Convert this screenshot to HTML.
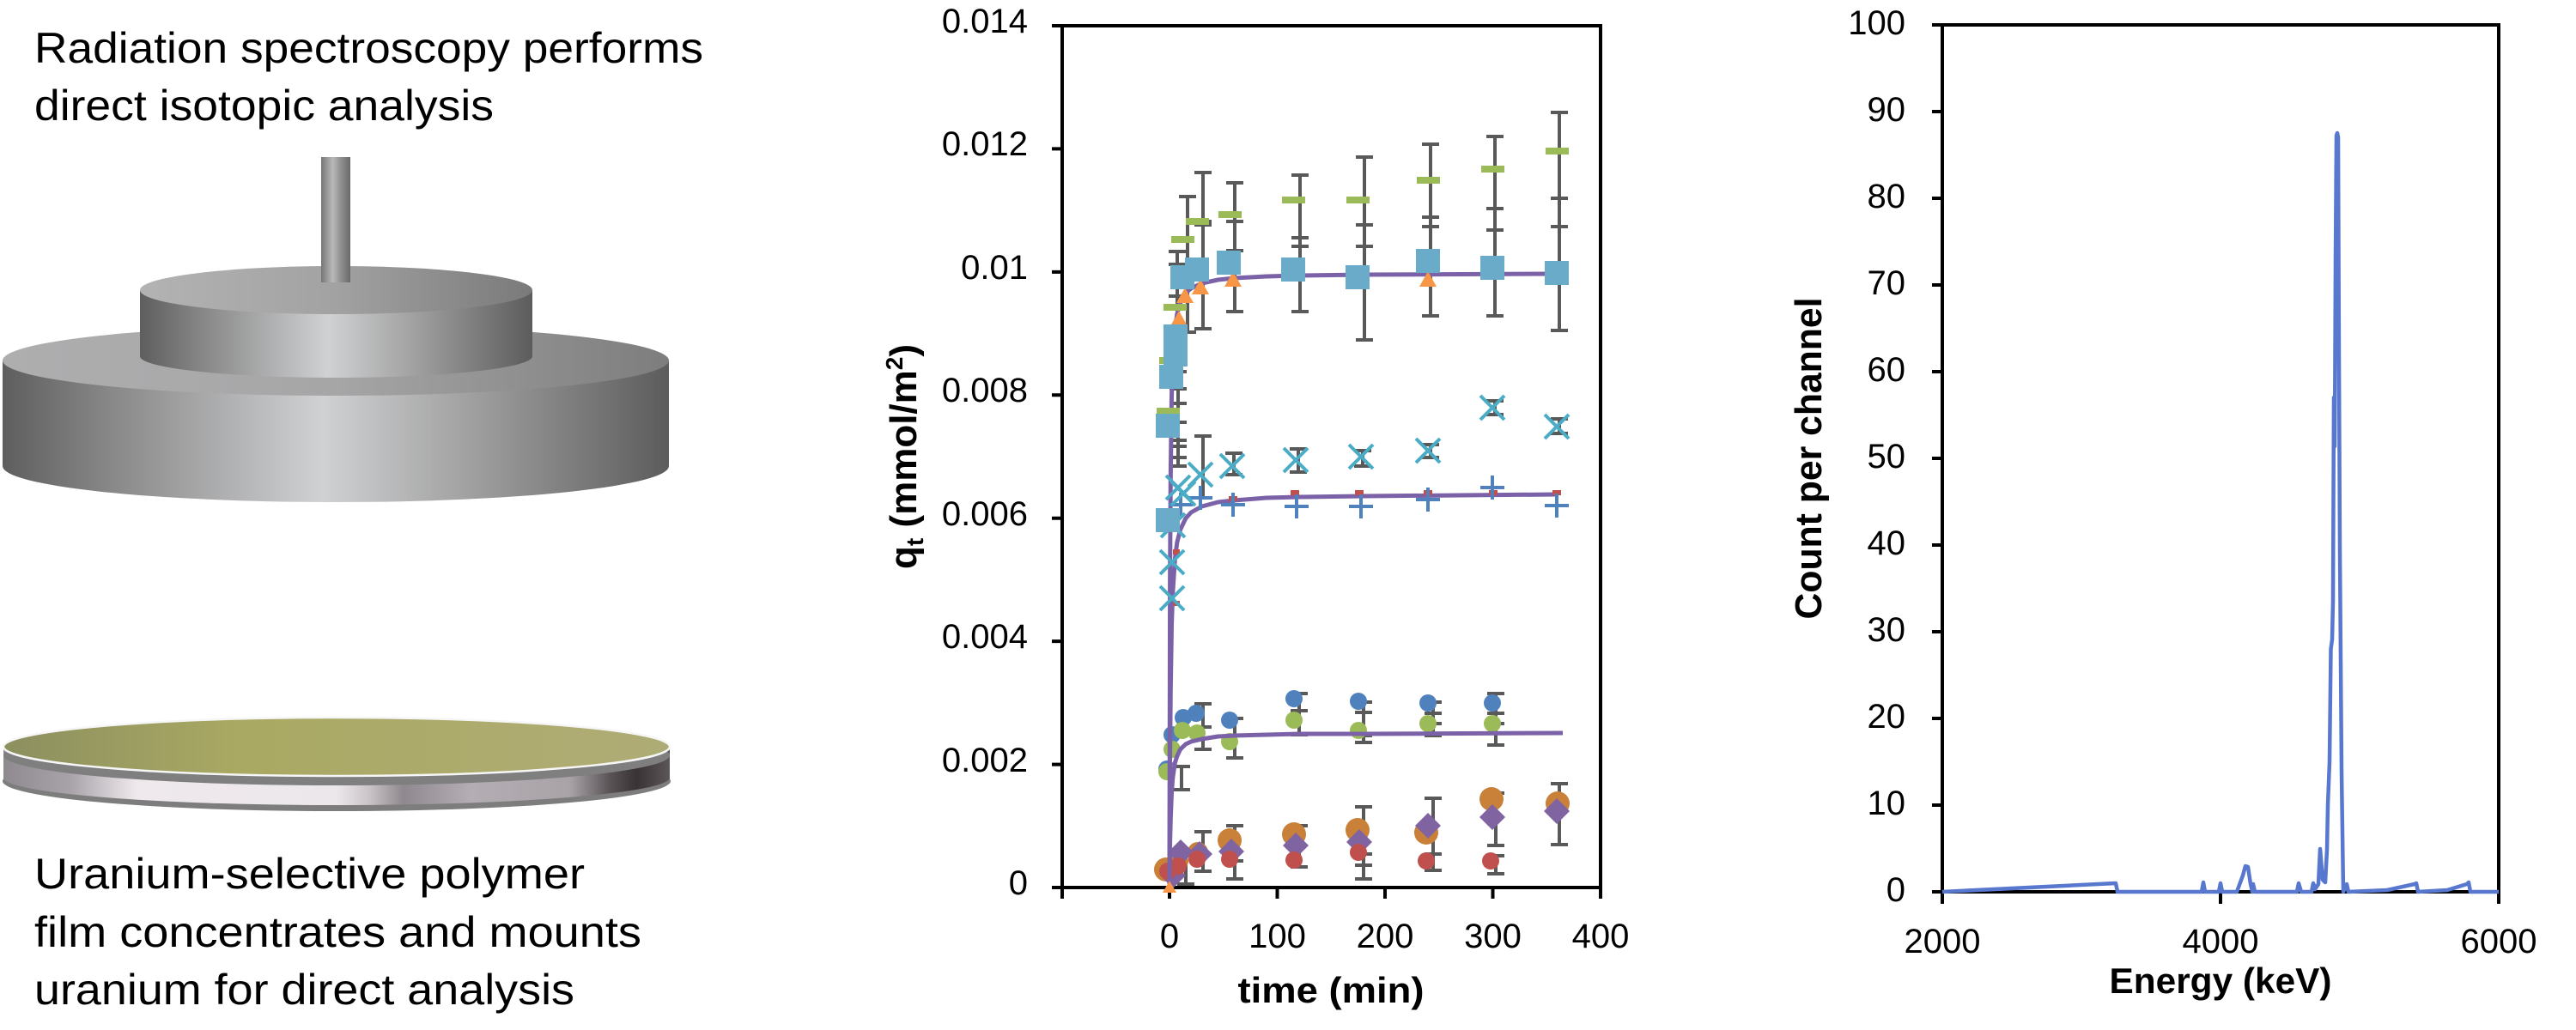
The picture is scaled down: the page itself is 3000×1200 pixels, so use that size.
<!DOCTYPE html>
<html><head><meta charset="utf-8"><style>
html,body{margin:0;padding:0;background:#fff;}
body{width:3000px;height:1200px;overflow:hidden;}
svg{display:block;}
text{font-family:"Liberation Sans",Arial,sans-serif;fill:#000;}
</style></head><body>
<svg width="3000" height="1200" viewBox="0 0 3000 1200" xmlns="http://www.w3.org/2000/svg">
<defs>
<linearGradient id="cyl" x1="0" x2="1" y1="0" y2="0">
<stop offset="0" stop-color="#5e5e5e"/><stop offset="0.15" stop-color="#858585"/>
<stop offset="0.48" stop-color="#d0d1d3"/><stop offset="0.72" stop-color="#9c9c9c"/>
<stop offset="1" stop-color="#5c5c5c"/></linearGradient>
<linearGradient id="top1" x1="0" x2="1" y1="0" y2="0">
<stop offset="0" stop-color="#b3b3b4"/><stop offset="0.5" stop-color="#a2a2a3"/><stop offset="1" stop-color="#7a7a7a"/></linearGradient>
<linearGradient id="top2" x1="0" x2="1" y1="0" y2="0">
<stop offset="0" stop-color="#aeaeaf"/><stop offset="0.5" stop-color="#a6a6a7"/><stop offset="1" stop-color="#7d7d7d"/></linearGradient>
<linearGradient id="rod" x1="0" x2="1" y1="0" y2="0">
<stop offset="0" stop-color="#767676"/><stop offset="0.4" stop-color="#b9b9b9"/><stop offset="0.7" stop-color="#8c8c8c"/><stop offset="1" stop-color="#6a6a6a"/></linearGradient>
<linearGradient id="disc" x1="0" x2="1" y1="0" y2="0">
<stop offset="0" stop-color="#8e8a8f"/><stop offset="0.1" stop-color="#a8a3a8"/>
<stop offset="0.2" stop-color="#efe9ee"/><stop offset="0.5" stop-color="#ece7ea"/>
<stop offset="0.55" stop-color="#c9c3c8"/><stop offset="0.6" stop-color="#8f898f"/>
<stop offset="0.7" stop-color="#b4aeb4"/><stop offset="0.85" stop-color="#a9a3a8"/>
<stop offset="0.91" stop-color="#5a5356"/><stop offset="0.95" stop-color="#3a3335"/>
<stop offset="1" stop-color="#5c5658"/></linearGradient>
<linearGradient id="olive" x1="0" x2="1" y1="0" y2="0">
<stop offset="0" stop-color="#8c8f5f"/><stop offset="0.35" stop-color="#a9a963"/>
<stop offset="0.7" stop-color="#adab6d"/><stop offset="1" stop-color="#aeac76"/></linearGradient>
</defs>

<!-- ===== Left illustration ===== -->
<text x="40" y="73" font-size="50" textLength="779" lengthAdjust="spacingAndGlyphs">Radiation spectroscopy performs</text>
<text x="40" y="140" font-size="50" textLength="535" lengthAdjust="spacingAndGlyphs">direct isotopic analysis</text>

<!-- lower cylinder -->
<path d="M3,420 L3,543 A388,42 0 0 0 779,543 L779,420 Z" fill="url(#cyl)"/>
<ellipse cx="391" cy="420" rx="388" ry="41" fill="url(#top2)"/>
<!-- upper cylinder -->
<path d="M163,338 L163,415 A228.5,25 0 0 0 620,415 L620,338 Z" fill="url(#cyl)"/>
<ellipse cx="391.5" cy="338" rx="228.5" ry="28" fill="url(#top1)"/>
<!-- rod -->
<rect x="374" y="183" width="34" height="146" fill="url(#rod)"/>

<!-- disc -->
<ellipse cx="392" cy="910" rx="389" ry="35" fill="#7d7d7d"/>
<rect x="4" y="872" width="776" height="36" fill="url(#disc)"/>
<ellipse cx="392" cy="906" rx="388" ry="32" fill="url(#disc)"/>
<ellipse cx="392" cy="880" rx="388" ry="35" fill="#7f7f7f"/>
<ellipse cx="392" cy="870" rx="388" ry="34" fill="url(#olive)" stroke="#f6f6f6" stroke-width="2.5"/>

<text x="40" y="1035" font-size="50" textLength="641" lengthAdjust="spacingAndGlyphs">Uranium-selective polymer</text>
<text x="40" y="1103" font-size="50" textLength="707" lengthAdjust="spacingAndGlyphs">film concentrates and mounts</text>
<text x="40" y="1170" font-size="50" textLength="629" lengthAdjust="spacingAndGlyphs">uranium for direct analysis</text>

<!-- ===== Middle chart ===== -->
<g stroke="#000" stroke-width="4" fill="none">
<rect x="1237" y="30" width="627" height="1004"/>
<path d="M1225,30H1237 M1225,173.4H1237 M1225,316.9H1237 M1225,460.3H1237 M1225,603.7H1237 M1225,747.1H1237 M1225,890.6H1237 M1225,1034H1237"/>
<path d="M1237,1034V1047 M1362,1034V1047 M1487.5,1034V1047 M1613,1034V1047 M1738.5,1034V1047 M1864,1034V1047"/>
</g>
<g font-size="40" text-anchor="end">
<text x="1197" y="38">0.014</text>
<text x="1197" y="181">0.012</text>
<text x="1197" y="325">0.01</text>
<text x="1197" y="468">0.008</text>
<text x="1197" y="612">0.006</text>
<text x="1197" y="755">0.004</text>
<text x="1197" y="899">0.002</text>
<text x="1197" y="1042">0</text>
</g>
<g font-size="40" text-anchor="middle">
<text x="1362" y="1104">0</text>
<text x="1487.5" y="1104">100</text>
<text x="1613" y="1104">200</text>
<text x="1738.5" y="1104">300</text>
<text x="1864" y="1104">400</text>
</g>
<text x="1550" y="1168" font-size="42" font-weight="bold" text-anchor="middle" textLength="217" lengthAdjust="spacingAndGlyphs">time (min)</text>
<text transform="translate(1067,532) rotate(-90)" font-size="44" font-weight="bold" text-anchor="middle">q<tspan font-size="28" dy="8">t</tspan><tspan dy="-8"> (mmol/m</tspan><tspan font-size="28" dy="-16">2</tspan><tspan dy="16">)</tspan></text>

<!-- error bars -->
<g stroke="#595959" stroke-width="4" fill="none">
<path d="M1383 229V387 M1373 229h20 M1373 387h20
M1401 201V383 M1391 201h20 M1391 383h20 M1391 258h20 M1391 262h20
M1438 213V363 M1428 213h20 M1428 363h20 M1428 258h20 M1428 292h20
M1514 204V363 M1504 204h20 M1504 363h20 M1504 277h20 M1504 287h20
M1589 183V396 M1579 183h20 M1579 396h20 M1579 262h20 M1579 287h20
M1666 168V368 M1656 168h20 M1656 368h20 M1656 253h20 M1656 264h20
M1741 159V368 M1731 159h20 M1731 368h20 M1731 243h20 M1731 268h20
M1816 131V385 M1806 131h20 M1806 385h20 M1806 231h20 M1806 264h20
M1371 293V388 M1361 293h20 M1361 308h20 M1361 345h20 M1361 388h20
M1372 433V492 M1362 433h20 M1362 453h20 M1362 470h20 M1362 492h20
M1372 508V543 M1362 513h20 M1362 520h20 M1362 533h20 M1362 543h20
M1401 508V580 M1391 508h20 M1391 580h20
M1437 528V553 M1427 528h20 M1427 553h20
M1512 523V550 M1502 523h20 M1502 550h20
M1587 525V543 M1577 525h20 M1577 543h20
M1666 518V533 M1656 518h20 M1656 533h20
M1741 467V483 M1731 467h20 M1731 483h20
M1816 488V505 M1806 488h20 M1806 505h20
M1376 893V920 M1366 893h20 M1366 920h20
M1401 820V873 M1391 820h20 M1391 847h20 M1391 873h20
M1438 837V883 M1428 837h20 M1428 883h20
M1513 808V856 M1503 808h20 M1503 828h20 M1503 856h20
M1588 818V865 M1578 818h20 M1578 830h20 M1578 857h20 M1578 865h20
M1669 818V857 M1659 818h20 M1659 831h20 M1659 843h20 M1659 857h20
M1742 808V868 M1732 808h20 M1732 831h20 M1732 843h20 M1732 868h20
M1381 990V1030 M1371 990h20 M1371 1030h20
M1401 969V1015 M1391 969h20 M1391 1015h20
M1438 962V1024 M1428 962h20 M1428 1003h20 M1428 1024h20
M1513 962V1010 M1503 962h20 M1503 1010h20
M1588 940V1024 M1578 940h20 M1578 995h20 M1578 1008h20 M1578 1024h20
M1669 930V1014 M1659 930h20 M1659 995h20 M1659 1014h20
M1742 924V985 M1732 924h20 M1732 985h20 M1742 997V1018 M1732 997h20 M1732 1018h20
M1816 913V984 M1806 913h20 M1806 984h20"/>
</g>

<!-- low group markers -->
<g fill="#4f81bd">
<circle cx="1359" cy="896" r="10"/><circle cx="1365" cy="856" r="10"/><circle cx="1378" cy="836" r="10"/>
<circle cx="1393" cy="831" r="10"/><circle cx="1432" cy="839" r="10"/><circle cx="1507" cy="814" r="10"/>
<circle cx="1582" cy="817" r="10"/><circle cx="1663" cy="819" r="10"/><circle cx="1738" cy="819" r="10"/>
</g>
<g fill="#9bbb59">
<circle cx="1359" cy="899" r="10"/><circle cx="1365" cy="873" r="10"/><circle cx="1377" cy="851" r="10"/>
<circle cx="1394" cy="854" r="10"/><circle cx="1432" cy="864" r="10"/><circle cx="1507" cy="839" r="10"/>
<circle cx="1582" cy="851" r="10"/><circle cx="1663" cy="843" r="10"/><circle cx="1738" cy="843" r="10"/>
</g>
<g fill="#c98038">
<circle cx="1358" cy="1013" r="14"/><circle cx="1372" cy="1003" r="12"/><circle cx="1395" cy="993" r="12"/>
<circle cx="1432" cy="979" r="14"/><circle cx="1507" cy="972" r="14"/><circle cx="1581" cy="967" r="14"/>
<circle cx="1661" cy="970" r="14"/><circle cx="1737" cy="931" r="14"/><circle cx="1814" cy="936" r="14"/>
</g>
<g fill="#8064a2">
<path d="M1366 1005l15 15-15 15-15-15z"/><path d="M1375 978l15 15-15 15-15-15z"/>
<path d="M1397 980l15 15-15 15-15-15z"/><path d="M1434 977l15 15-15 15-15-15z"/>
<path d="M1509 970l15 15-15 15-15-15z"/><path d="M1583 966l15 15-15 15-15-15z"/>
<path d="M1663 947l15 15-15 15-15-15z"/><path d="M1738 937l15 15-15 15-15-15z"/>
<path d="M1813 930l15 15-15 15-15-15z"/>
</g>
<g fill="#c0504d">
<circle cx="1360" cy="1015" r="10"/><circle cx="1372" cy="1009" r="10"/><circle cx="1394" cy="1001" r="10"/>
<circle cx="1432" cy="1001" r="10"/><circle cx="1507" cy="1002" r="10"/><circle cx="1582" cy="993" r="10"/>
<circle cx="1661" cy="1003" r="10"/><circle cx="1736" cy="1003" r="10"/>
</g>

<!-- fit curves -->
<g fill="none" stroke="#7b62a8" stroke-width="5" stroke-linejoin="round">
<path d="M1362,1034 L1362.6,676 L1363.3,557 L1364.5,462 L1365.8,421 L1368.3,384 L1370.8,366 L1374.6,353 L1380.8,341 L1387.1,336 L1399.7,330 L1418.5,326 L1437.3,324 L1475,322 L1512.6,321 L1587.9,320 L1813.8,319"/>
<path d="M1362,1034 L1362.6,881 L1363.3,805 L1364.5,728 L1365.8,690 L1368.3,652 L1370.8,632 L1374.6,617 L1380.8,604 L1387.1,597 L1399.7,590 L1418.5,585 L1437.3,583 L1475,580 L1512.6,579 L1587.9,578 L1813.8,576"/>
<path d="M1362,1034 L1362.6,982 L1363.3,954 L1364.5,923 L1365.8,906 L1368.3,889 L1370.8,881 L1374.6,873 L1380.8,867 L1387.1,864 L1399.7,861 L1418.5,858 L1437.3,857 L1475,856 L1512.6,855 L1587.9,855 L1820,854"/>
</g>

<!-- mid group markers -->
<g fill="#c0504d">
<rect x="1431" y="578" width="10" height="6"/><rect x="1503" y="571" width="10" height="6"/>
<rect x="1578" y="571" width="10" height="6"/><rect x="1658" y="571" width="10" height="6"/>
<rect x="1734" y="571" width="10" height="6"/><rect x="1808" y="571" width="10" height="6"/>
<rect x="1366" y="640" width="8" height="6"/><rect x="1366" y="700" width="8" height="6"/>
</g>
<g stroke="#4f81bd" stroke-width="4" fill="none">
<path d="M1361 588h28M1375 574v28 M1384 580h28M1398 566v28 M1422 588h28M1436 574v28 M1496 590h28M1510 576v28 M1571 590h28M1585 576v28 M1649 582h28M1663 568v28 M1724 568h28M1738 554v28 M1799 589h28M1813 575v28"/>
</g>
<g stroke="#4bacc6" stroke-width="4" fill="none">
<path d="M1351 683l28 28M1351 711l28-28 M1351 641l28 28M1351 669l28-28 M1352 598l28 28M1352 626l28-28 M1358 554l28 28M1358 582l28-28 M1364 561l28 28M1364 589l28-28 M1384 539l28 28M1384 567l28-28 M1421 529l28 28M1421 557l28-28 M1495 522l28 28M1495 550l28-28 M1571 518l28 28M1571 546l28-28 M1649 511l28 28M1649 539l28-28 M1724 461l28 28M1724 489l28-28 M1799 483l28 28M1799 511l28-28"/>
</g>

<!-- top group markers -->
<g fill="#f79646">
<path d="M1363 380h20l-10-18z"/><path d="M1370 353h20l-10-18z"/><path d="M1388 343h20l-10-18z"/>
<path d="M1426 334h20l-10-18z"/><path d="M1653 334h20l-10-18z"/><path d="M1354 1040h16l-8-14z"/>
</g>
<g fill="#9bbb59">
<rect x="1347" y="475" width="27" height="8"/><rect x="1350" y="416" width="27" height="8"/>
<rect x="1355" y="354" width="27" height="8"/><rect x="1364" y="275" width="27" height="8"/>
<rect x="1381" y="254" width="27" height="8"/><rect x="1419" y="246" width="27" height="8"/>
<rect x="1493" y="229" width="27" height="8"/><rect x="1568" y="229" width="27" height="8"/>
<rect x="1650" y="206" width="27" height="8"/><rect x="1725" y="193" width="27" height="8"/>
<rect x="1800" y="172" width="27" height="8"/>
</g>
<g fill="#6aabca">
<rect x="1346" y="592" width="28" height="28"/><rect x="1346" y="482" width="28" height="28"/>
<rect x="1350" y="425" width="28" height="28"/><rect x="1355" y="399" width="28" height="28"/>
<rect x="1355" y="378" width="28" height="28"/><rect x="1363" y="309" width="28" height="28"/>
<rect x="1380" y="300" width="28" height="28"/><rect x="1417" y="292" width="28" height="28"/>
<rect x="1492" y="300" width="28" height="28"/><rect x="1567" y="309" width="28" height="28"/>
<rect x="1649" y="290" width="28" height="28"/><rect x="1724" y="298" width="28" height="28"/>
<rect x="1799" y="304" width="28" height="28"/>
</g>

<!-- ===== Right chart ===== -->
<g stroke="#000" stroke-width="4" fill="none">
<rect x="2262" y="29" width="648" height="1010"/>
<path d="M2250,29H2262 M2250,130H2262 M2250,231H2262 M2250,332H2262 M2250,433H2262 M2250,534H2262 M2250,635H2262 M2250,736H2262 M2250,837H2262 M2250,938H2262 M2250,1039H2262"/>
<path d="M2262,1039V1053 M2586,1039V1053 M2910,1039V1053"/>
</g>
<g font-size="40" text-anchor="end">
<text x="2219" y="40">100</text><text x="2219" y="141">90</text><text x="2219" y="242">80</text>
<text x="2219" y="343">70</text><text x="2219" y="444">60</text><text x="2219" y="545">50</text>
<text x="2219" y="646">40</text><text x="2219" y="747">30</text><text x="2219" y="848">20</text>
<text x="2219" y="949">10</text><text x="2219" y="1050">0</text>
</g>
<g font-size="40" text-anchor="middle">
<text x="2262" y="1110">2000</text><text x="2586" y="1110">4000</text><text x="2910" y="1110">6000</text>
</g>
<text x="2586" y="1157" font-size="42" font-weight="bold" text-anchor="middle" textLength="259" lengthAdjust="spacingAndGlyphs">Energy (keV)</text>
<text transform="translate(2121,534) rotate(-90)" font-size="44" font-weight="bold" text-anchor="middle" textLength="375" lengthAdjust="spacingAndGlyphs">Count per channel</text>

<path fill="none" stroke="#5877cf" stroke-width="4.5" stroke-linejoin="round" d="M2262,1039 L2464,1029 L2466,1039 L2564,1039 L2566,1028 L2568,1039 L2584,1039 L2586,1029 L2588,1039 L2605,1039 L2612,1020 L2615,1009 L2618,1010 L2621,1030 L2623,1039 L2624,1030 L2626,1039 L2675,1039 L2677,1029 L2680,1039 L2692,1039 L2694,1029 L2696,1036 L2700,1030 L2702,989 L2705,1025 L2708,1028 L2710,990 L2711,938 L2713,887 L2714.5,756 L2716,745 L2717,700 L2718,463 L2719,520 L2720,300 L2721,158 L2722,155 L2723,160 L2724,420 L2725,640 L2727,900 L2729,1039 L2733,1030 L2735,1039 L2780,1037 L2812,1030 L2814,1029 L2816,1039 L2850,1037 L2873,1030 L2875,1028 L2877,1039 L2910,1039"/>
</svg>
</body></html>
